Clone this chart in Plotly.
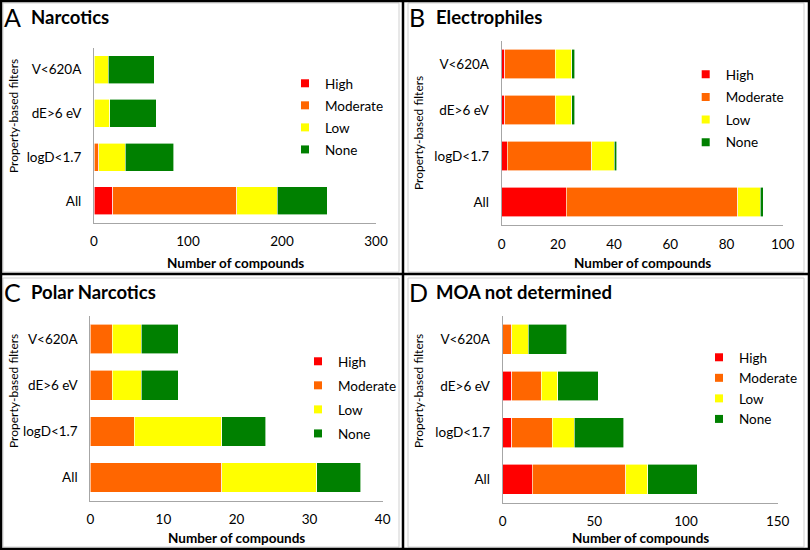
import plotly.graph_objects as go

W, H = 810, 550

categories = ["All", "logD<1.7", "dE>6 eV", "V<620A"]
levels = ["High", "Moderate", "Low", "None"]
level_colors = ["#ff0000", "#ff6600", "#ffff00", "#008000"]

# values per panel, order of categories: All, logD<1.7, dE>6 eV, V<620A
narcotics_high = [20, 0, 0, 0]
narcotics_moderate = [132, 5, 0, 0]
narcotics_low = [43, 28, 17, 15]
narcotics_none = [53, 52, 49, 49]

electro_high = [23, 2, 1, 1]
electro_moderate = [61, 30, 18, 18]
electro_low = [8, 8, 6, 6]
electro_none = [1, 1, 1, 1]

polar_high = [0, 0, 0, 0]
polar_moderate = [18, 6, 3, 3]
polar_low = [13, 12, 4, 4]
polar_none = [6, 6, 5, 5]

moa_high = [16, 5, 5, 0]
moa_moderate = [51, 22, 16, 5]
moa_low = [12, 12, 9, 9]
moa_none = [27, 27, 22, 21]

panel_letters = ["A", "B", "C", "D"]
panel_titles = ["Narcotics", "Electrophiles", "Polar Narcotics", "MOA not determined"]
x_ranges = [[0, 300], [0, 100], [0, 40], [0, 150]]
x_dticks = [100, 20, 10, 50]
panel_data = [
    [narcotics_high, narcotics_moderate, narcotics_low, narcotics_none],
    [electro_high, electro_moderate, electro_low, electro_none],
    [polar_high, polar_moderate, polar_low, polar_none],
    [moa_high, moa_moderate, moa_low, moa_none],
]

FONT = "Lato"

def px(x):
    return x / W

def py(y):
    return 1 - y / H

# layout geometry in pixels: (x0, x1, ytop, ybottom)
plot_boxes = [
    (94, 376, 47.7, 222.7),
    (501.7, 782.7, 40.7, 225.3),
    (90.3, 382.7, 316, 500.7),
    (502.7, 777.7, 316, 502.7),
]
panel_origins = [(0, 0), (405, 0), (0, 275), (405, 275)]
legend_text_pos = [(325, 84, 22), (725.7, 75, 22.6), (338, 362, 24), (739, 358, 20)]
ytitle_centers = [116, 133, 391, 391]

fig = go.Figure()
layout = dict(
    width=W, height=H,
    margin=dict(l=0, r=0, t=0, b=0, autoexpand=False),
    paper_bgcolor="white", plot_bgcolor="white",
    barmode="stack", bargap=0.36,
    font=dict(family=FONT, size=13, color="#000000"),
    annotations=[], shapes=[],
)

for i in range(4):
    sfx = "" if i == 0 else str(i + 1)
    xa, ya = "x" + sfx, "y" + sfx
    x0, x1, yt, yb = plot_boxes[i]
    ox, oy = panel_origins[i]
    for lv, col, vals in zip(levels, level_colors, panel_data[i]):
        fig.add_trace(go.Bar(
            y=categories, x=vals, orientation="h", name=lv,
            marker=dict(color=col, line=dict(color="white", width=0.6)),
            xaxis=xa, yaxis=ya, showlegend=False, hoverinfo="x+y+name",
        ))
    legname = "legend" + sfx
    for lv, col in zip(levels, level_colors):
        fig.add_trace(go.Scatter(
            x=[None], y=[None], mode="markers", name=lv,
            marker=dict(symbol="square", size=8, color=col),
            xaxis=xa, yaxis=ya, legend=legname, legendgroup=lv + sfx,
            showlegend=True,
        ))
    tx, ty, gap = legend_text_pos[i]
    layout[legname] = dict(
        x=px(tx - 40), y=py(ty - 16), xanchor="left", yanchor="top",
        traceorder="grouped", tracegroupgap=max(0, gap - 20.5),
        font=dict(family=FONT, size=13.5, color="#000000"),
        bgcolor="rgba(0,0,0,0)", borderwidth=0, itemwidth=30,
    )
    layout["xaxis" + sfx] = dict(
        domain=[px(x0), px(x1)], anchor=ya, range=x_ranges[i], dtick=x_dticks[i],
        showgrid=False, zeroline=False, showline=True, linecolor="#a6a6a6", linewidth=1,
        ticks="", tickfont=dict(family=FONT, size=13.5), ticklabelstandoff=6, fixedrange=True,
    )
    layout["yaxis" + sfx] = dict(
        domain=[py(yb), py(yt)], anchor=xa, type="category",
        showgrid=False, zeroline=False, showline=True, linecolor="#a6a6a6", linewidth=1,
        ticks="", tickfont=dict(family=FONT, size=13.5), ticklabelstandoff=9, fixedrange=True,
    )
    # panel letter and title
    layout["annotations"].append(dict(
        text=panel_letters[i], x=px(ox + 2), y=py(oy + 17), xref="paper", yref="paper",
        xanchor="left", yanchor="middle", showarrow=False,
        font=dict(family=FONT, size=25, color="black")))
    layout["annotations"].append(dict(
        text="<b>" + panel_titles[i] + "</b>", x=px(ox + 29), y=py(oy + 17), xref="paper", yref="paper",
        xanchor="left", yanchor="middle", showarrow=False,
        font=dict(family=FONT, size=18.5, color="black")))
    # axis titles
    layout["annotations"].append(dict(
        text="<b>Number of compounds</b>", x=px((x0 + x1) / 2), y=py(oy + 263), xref="paper", yref="paper",
        xanchor="center", yanchor="middle", showarrow=False,
        font=dict(family=FONT, size=13.5, color="black")))
    layout["annotations"].append(dict(
        text="Property-based filters", x=px(ox + 13), y=py(ytitle_centers[i]), xref="paper", yref="paper",
        xanchor="center", yanchor="middle", showarrow=False, textangle=-90,
        font=dict(family=FONT, size=12, color="black")))
    # light chart-area border
    layout["shapes"].append(dict(
        type="rect", xref="paper", yref="paper",
        x0=px(ox + 3), x1=px(ox + 399), y0=py(oy + 3), y1=py(oy + 272),
        line=dict(color="#d0d0d0", width=1)))

# black panel frame
layout["shapes"].append(dict(type="rect", xref="paper", yref="paper",
                             x0=px(1), x1=px(809), y0=py(1), y1=py(549),
                             line=dict(color="black", width=2.5)))
layout["shapes"].append(dict(type="line", xref="paper", yref="paper", x0=px(403), x1=px(403), y0=py(0), y1=py(550), line=dict(color="black", width=2.5)))
layout["shapes"].append(dict(type="line", xref="paper", yref="paper", x0=px(0), x1=px(810), y0=py(274), y1=py(274), line=dict(color="black", width=2.5)))

fig.update_layout(**layout)
fig.write_html("out.html", config={"displayModeBar": False})

# remove default page margin so the figure sits at the window origin
with open("out.html", "r", encoding="utf-8") as f:
    html = f.read()
html = html.replace("<head>", "<head><style>html,body{margin:0;padding:0;overflow:hidden;}</style>", 1)
with open("out.html", "w", encoding="utf-8") as f:
    f.write(html)
